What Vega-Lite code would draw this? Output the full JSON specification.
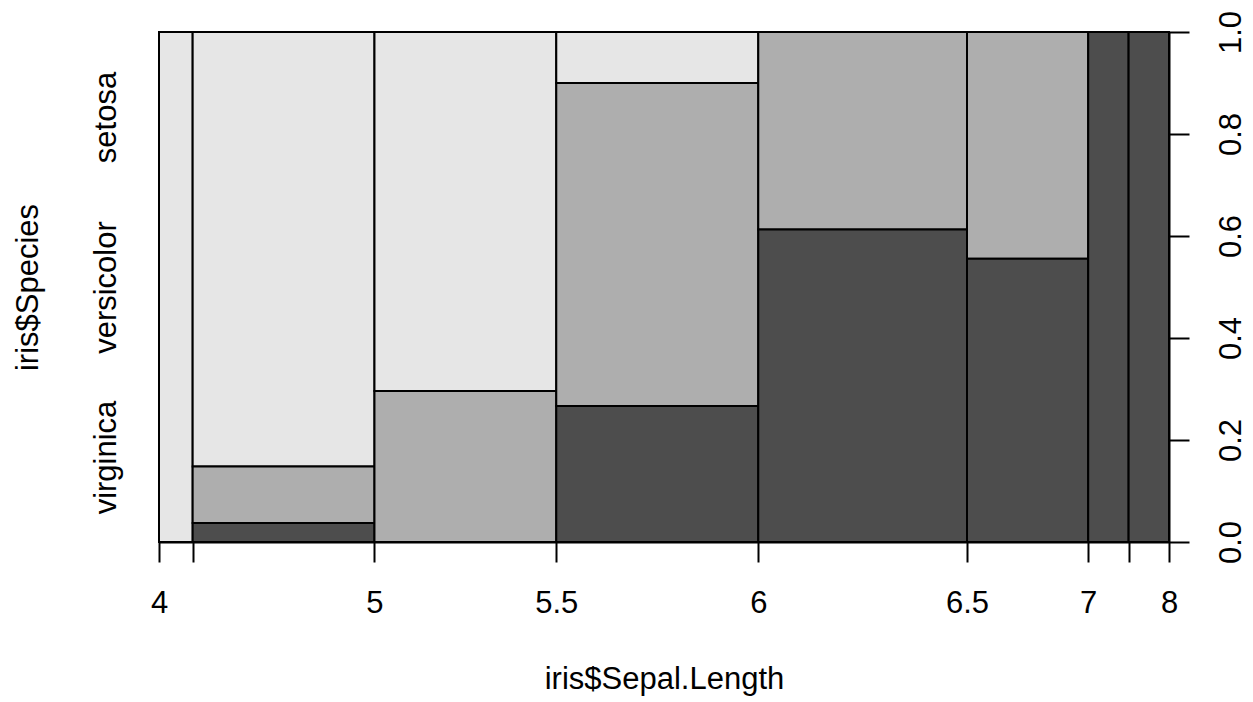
{
  "$schema": "https://vega.github.io/schema/vega-lite/v6.json",
  "width": 1010,
  "height": 510,
  "autosize": "none",
  "padding": {"left": 159, "top": 32, "right": 84, "bottom": 160},
  "background": "white",
  "config": {
    "view": {"stroke": null},
    "font": "Liberation Sans",
    "axis": {
      "labelFont": "Liberation Sans",
      "labelFontSize": 31,
      "labelColor": "black",
      "titleFont": "Liberation Sans",
      "titleFontSize": 31,
      "titleFontWeight": "normal",
      "titleColor": "black",
      "domainColor": "black",
      "domainWidth": 2,
      "tickColor": "black",
      "tickWidth": 2,
      "grid": false,
      "labelOverlap": false,
      "labelFlush": false
    }
  },
  "data": {
    "values": [
      {"lo": 4.0, "hi": 4.5, "species": "setosa", "n": 5},
      {"lo": 4.5, "hi": 5.0, "species": "setosa", "n": 23},
      {"lo": 4.5, "hi": 5.0, "species": "versicolor", "n": 3},
      {"lo": 4.5, "hi": 5.0, "species": "virginica", "n": 1},
      {"lo": 5.0, "hi": 5.5, "species": "setosa", "n": 19},
      {"lo": 5.0, "hi": 5.5, "species": "versicolor", "n": 8},
      {"lo": 5.5, "hi": 6.0, "species": "setosa", "n": 3},
      {"lo": 5.5, "hi": 6.0, "species": "versicolor", "n": 19},
      {"lo": 5.5, "hi": 6.0, "species": "virginica", "n": 8},
      {"lo": 6.0, "hi": 6.5, "species": "versicolor", "n": 12},
      {"lo": 6.0, "hi": 6.5, "species": "virginica", "n": 19},
      {"lo": 6.5, "hi": 7.0, "species": "versicolor", "n": 8},
      {"lo": 6.5, "hi": 7.0, "species": "virginica", "n": 10},
      {"lo": 7.0, "hi": 7.5, "species": "virginica", "n": 6},
      {"lo": 7.5, "hi": 8.0, "species": "virginica", "n": 6}
    ]
  },
  "transform": [
    {"joinaggregate": [{"op": "sum", "field": "n", "as": "total"}], "groupby": ["lo"]},
    {"window": [{"op": "sum", "field": "n", "as": "cum"}], "sort": [{"field": "lo", "order": "ascending"}], "frame": [null, 0]},
    {"calculate": "datum.cum - datum.total", "as": "xstart"},
    {"stack": "n", "groupby": ["lo"], "sort": [{"field": "species", "order": "descending"}], "as": ["y0", "y1"], "offset": "normalize"}
  ],
  "layer": [
    {
      "mark": {"type": "rect", "stroke": "black", "strokeWidth": 2},
      "encoding": {
        "x": {
          "field": "xstart",
          "type": "quantitative",
          "scale": {"domain": [0, 150], "nice": false, "zero": false},
          "axis": {
            "orient": "bottom",
            "title": "iris$Sepal.Length",
            "values": [0, 5, 32, 59, 89, 120, 138, 144, 150],
            "labelExpr": "datum.value == 0 ? '4' : datum.value == 32 ? '5' : datum.value == 59 ? '5.5' : datum.value == 89 ? '6' : datum.value == 120 ? '6.5' : datum.value == 138 ? '7' : datum.value == 150 ? '8' : ''",
            "tickSize": 20,
            "labelPadding": 50,
            "labelBaseline": "alphabetic",
            "labelAlign": "center",
            "titleBaseline": "alphabetic",
            "titleY": 146
          }
        },
        "x2": {"field": "cum"},
        "y": {
          "field": "y0",
          "type": "quantitative",
          "scale": {"domain": [0, 1], "nice": false},
          "axis": {
            "orient": "right",
            "title": null,
            "values": [0, 0.2, 0.4, 0.6, 0.8, 1.0],
            "format": ".1f",
            "tickSize": 20,
            "labelAngle": -90,
            "labelAlign": "center",
            "labelBaseline": "alphabetic",
            "labelPadding": 51
          }
        },
        "y2": {"field": "y1"},
        "fill": {
          "field": "species",
          "type": "nominal",
          "scale": {"domain": ["setosa", "versicolor", "virginica"], "range": ["#E6E6E6", "#AEAEAE", "#4D4D4D"]},
          "legend": null
        }
      }
    },
    {
      "mark": {"type": "rect", "fillOpacity": 0, "strokeOpacity": 0},
      "encoding": {
        "x": {
          "field": "xstart",
          "type": "quantitative",
          "axis": {
            "orient": "bottom",
            "title": "iris$Sepal.Length",
            "values": [0, 5, 32, 59, 89, 120, 138, 144, 150],
            "labelExpr": "datum.value == 0 ? '4' : datum.value == 32 ? '5' : datum.value == 59 ? '5.5' : datum.value == 89 ? '6' : datum.value == 120 ? '6.5' : datum.value == 138 ? '7' : datum.value == 150 ? '8' : ''",
            "tickSize": 20,
            "labelPadding": 50,
            "labelBaseline": "alphabetic",
            "labelAlign": "center",
            "titleBaseline": "alphabetic",
            "titleY": 146
          }
        },
        "x2": {"field": "cum"},
        "y": {
          "field": "y0",
          "type": "quantitative",
          "axis": {
            "orient": "left",
            "title": "iris$Species",
            "values": [0.16667, 0.5, 0.83333],
            "labelExpr": "datum.value < 0.3 ? 'virginica' : datum.value < 0.7 ? 'versicolor' : 'setosa'",
            "ticks": false,
            "tickSize": 0,
            "domain": false,
            "labelAngle": -90,
            "labelAlign": "center",
            "labelBaseline": "alphabetic",
            "labelPadding": 44,
            "titleAngle": -90,
            "titleBaseline": "alphabetic",
            "titleX": -122,
            "titleY": 255
          }
        },
        "y2": {"field": "y1"}
      }
    }
  ],
  "resolve": {"axis": {"y": "independent"}}
}
